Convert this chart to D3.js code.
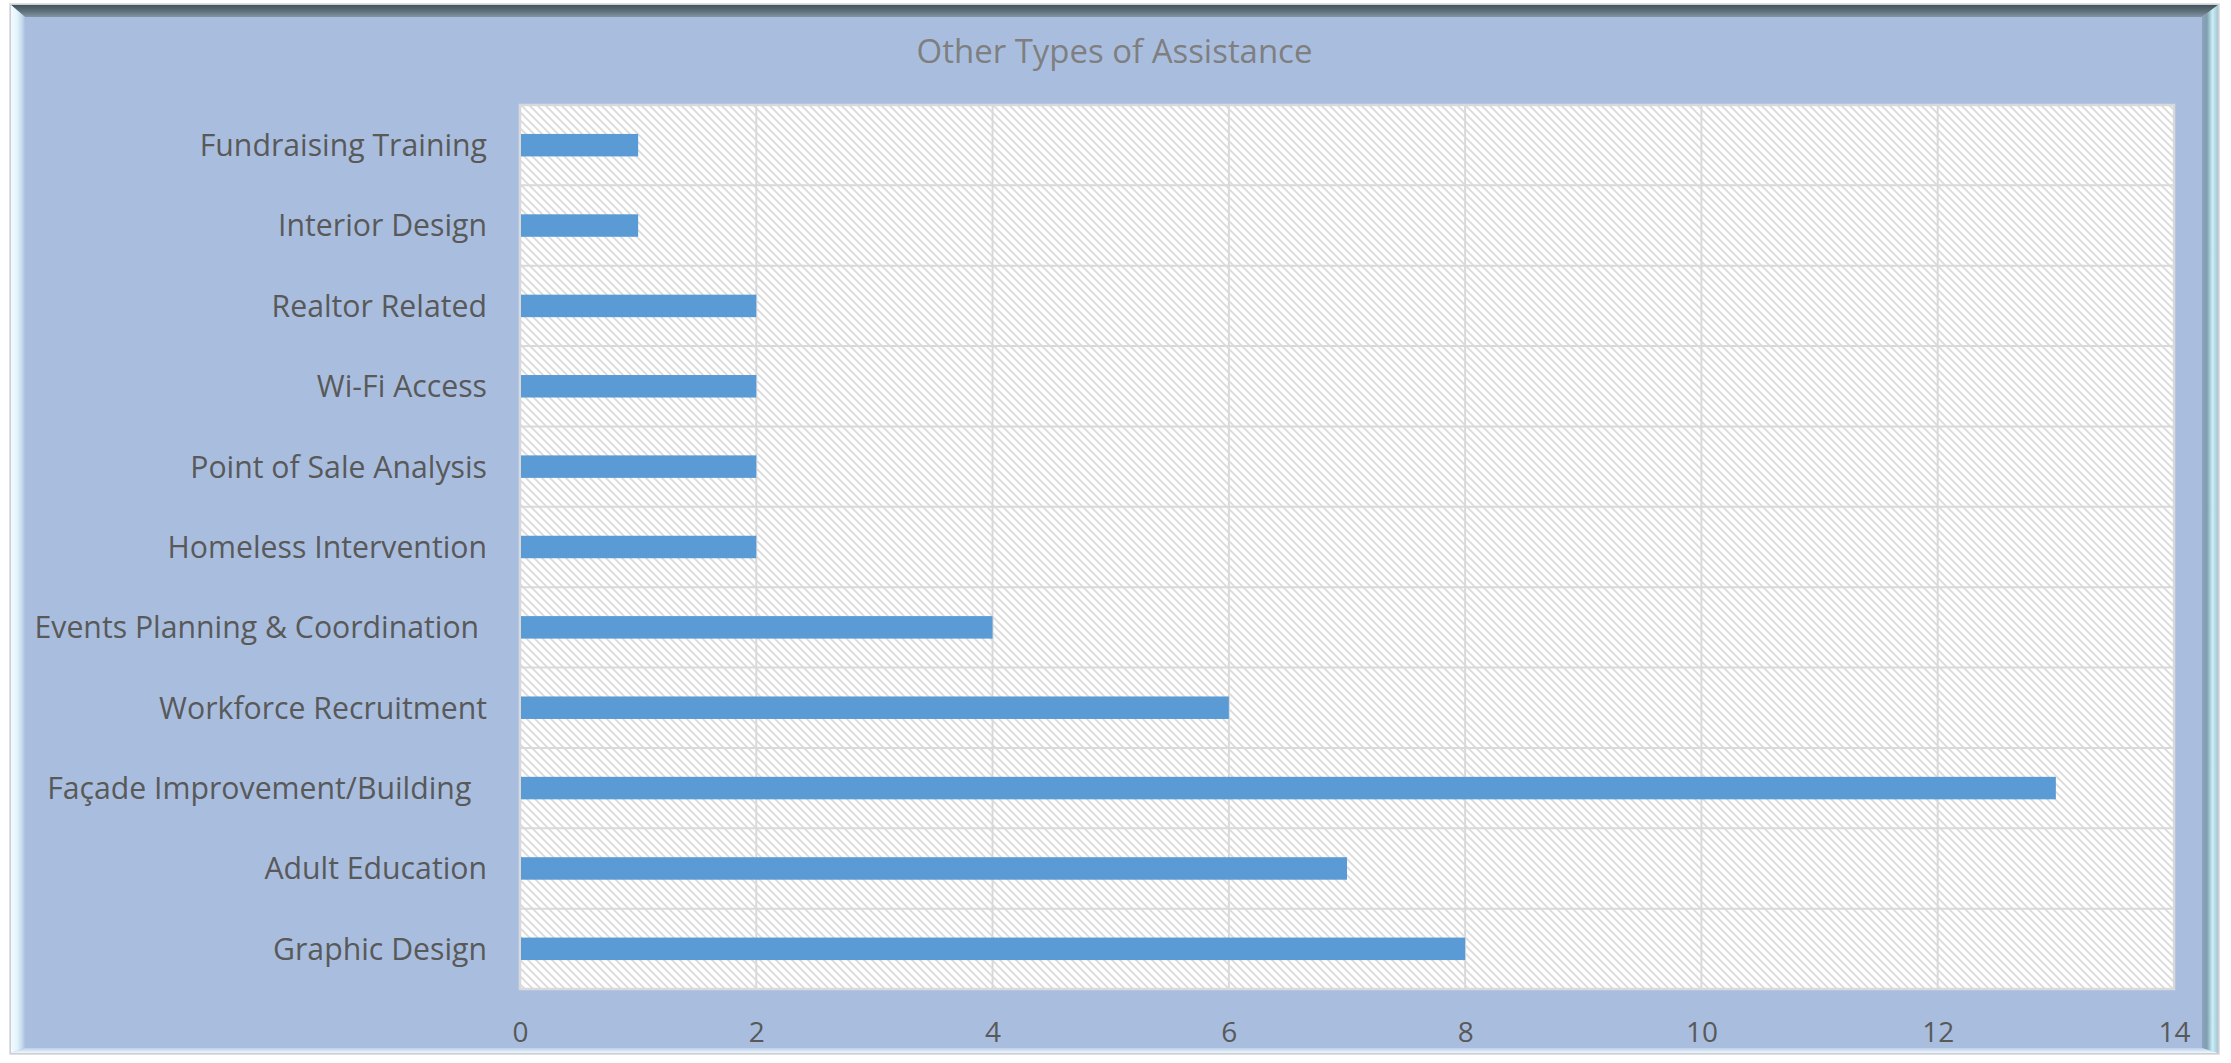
<!DOCTYPE html>
<html>
<head>
<meta charset="utf-8">
<script src="https://cdn.jsdelivr.net/npm/d3@7"></script>
<style>
  html, body { margin: 0; padding: 0; background: #ffffff; }
  svg { display: block; }
  text { font-family: "Open Sans", "Noto Sans", sans-serif; white-space: pre; }
</style>
</head>
<body>
<svg id="chart" width="2231" height="1063"></svg>
<script>
// Assistance categories, listed top to bottom
const categories = [
  "Fundraising Training",
  "Interior Design",
  "Realtor Related",
  "Wi-Fi Access",
  "Point of Sale Analysis",
  "Homeless Intervention",
  "Events Planning & Coordination ",
  "Workforce Recruitment",
  "Façade Improvement/Building  ",
  "Adult Education",
  "Graphic Design"
];
// Number of requests for each category
const counts = [1, 1, 2, 2, 2, 2, 4, 6, 13, 7, 8];
// Value-axis ticks
const xTicks = [0, 2, 4, 6, 8, 10, 12, 14];
const chartTitle = "Other Types of Assistance";

const svg = d3.select("#chart");
const defs = svg.append("defs");

// ---- frame gradients ----
function linGrad(id, x2, y2, stops) {
  const g = defs.append("linearGradient").attr("id", id)
    .attr("x1", 0).attr("y1", 0).attr("x2", x2).attr("y2", y2);
  stops.forEach(s => g.append("stop").attr("offset", s[0]).attr("stop-color", s[1]));
}
linGrad("bevTop", 0, 1, [[0, "#43535a"], [0.5, "#5d6f78"], [1, "#8496a6"]]);
linGrad("bevLeft", 1, 0, [[0, "#f4fbff"], [0.45, "#e2f4fb"], [0.8, "#c3d8ec"], [1, "#abc0e0"]]);
linGrad("bevRight", 1, 0, [[0, "#8ea4bc"], [0.3, "#7f9db0"], [0.65, "#c9eef6"], [1, "#a6c6d2"]]);
linGrad("bevBottom", 0, 1, [[0, "#bccfe9"], [1, "#f1f8fd"]]);

// diagonal hatch for the plot area
const pat = defs.append("pattern").attr("id", "hatch")
  .attr("patternUnits", "userSpaceOnUse").attr("width", 8).attr("height", 8);
pat.append("rect").attr("width", 8).attr("height", 8).attr("fill", "#ffffff");
pat.append("path").attr("d", "M0,0 L8,8 M-2,6 L2,10 M6,-2 L10,2")
  .attr("stroke", "#dadada").attr("stroke-width", 1.8);

// ---- outer frame ----
const fx0 = 11, fy0 = 5, fx1 = 2218, fy1 = 1053;
const bl = 25, bt = 17, br = 2202, bb = 1048;
svg.append("rect").attr("x", fx0 - 1).attr("y", fy0 - 1)
  .attr("width", fx1 - fx0 + 2).attr("height", fy1 - fy0 + 2)
  .attr("fill", "#a9bedf").attr("stroke", "#d6d6d6").attr("stroke-width", 1.5);

const poly = (pts, fill) => svg.append("polygon")
  .attr("points", pts.map(p => p.join(",")).join(" ")).attr("fill", fill);
poly([[fx0, fy0], [fx1, fy0], [br, bt], [bl, bt]], "url(#bevTop)");
poly([[fx0, fy0], [bl, bt], [bl, bb], [fx0, fy1]], "url(#bevLeft)");
poly([[fx1, fy0], [fx1, fy1], [br, bb], [br, bt]], "url(#bevRight)");
poly([[bl, bb], [br, bb], [fx1, fy1], [fx0, fy1]], "url(#bevBottom)");

// ---- plot area ----
const plot = { left: 520, top: 105, right: 2174, bottom: 989 };

const x = d3.scaleLinear().domain([0, 14]).range([plot.left, plot.right]);
const y = d3.scaleBand().domain(categories)
  .range([plot.top, plot.bottom]).paddingInner(0.72).paddingOuter(0.36);

svg.append("rect")
  .attr("x", plot.left).attr("y", plot.top)
  .attr("width", plot.right - plot.left).attr("height", plot.bottom - plot.top)
  .attr("fill", "url(#hatch)");

// vertical gridlines
svg.append("g").selectAll("line").data(xTicks).join("line")
  .attr("x1", d => x(d)).attr("x2", d => x(d))
  .attr("y1", plot.top).attr("y2", plot.bottom)
  .attr("stroke", "#d9d9d9").attr("stroke-width", 2);

// horizontal separators between categories
const step = y.step();
const seps = d3.range(1, categories.length).map(i => plot.top + i * step);
svg.append("g").selectAll("line").data(seps).join("line")
  .attr("x1", plot.left).attr("x2", plot.right)
  .attr("y1", d => d).attr("y2", d => d)
  .attr("stroke", "#d9d9d9").attr("stroke-width", 2);

svg.append("rect")
  .attr("x", plot.left).attr("y", plot.top)
  .attr("width", plot.right - plot.left).attr("height", plot.bottom - plot.top)
  .attr("fill", "none").attr("stroke", "#d9d9d9").attr("stroke-width", 2.5);

// bars
svg.append("g").selectAll("rect").data(categories).join("rect")
  .attr("x", x(0) + 1)
  .attr("y", d => y(d))
  .attr("width", (d, i) => x(counts[i]) - x(0) - 1)
  .attr("height", y.bandwidth())
  .attr("fill", "#5b9bd5");

// ---- text: size each group so its width fits the layout ----
function fitSize(str, targetWidth) {
  const t = svg.append("text").attr("font-size", 100).text(str);
  const w = t.node().getComputedTextLength();
  t.remove();
  return 100 * targetWidth / w;
}

const catSize = fitSize("Workforce Recruitment", 328);
svg.append("g").selectAll("text").data(categories).join("text")
  .attr("x", 487)
  .attr("y", d => y(d) + y.bandwidth() / 2)
  .attr("dy", "0.36em")
  .attr("text-anchor", "end")
  .attr("font-size", catSize)
  .attr("fill", "#595959")
  .text(d => d);

const tickSize = 28;
const xAxis = d3.axisBottom(x).tickValues(xTicks).tickSize(0).tickPadding(0);
const axG = svg.append("g").attr("transform", `translate(0,${plot.bottom})`).call(xAxis);
axG.select(".domain").remove();
axG.selectAll("text")
  .attr("y", 0).attr("dy", 0)
  .attr("transform", "translate(0,53)")
  .attr("font-size", tickSize)
  .attr("font-family", "\"Open Sans\", \"Noto Sans\", sans-serif")
  .attr("fill", "#595959");

const titleSize = fitSize(chartTitle, 396);
svg.append("text")
  .attr("x", 1114.5).attr("y", 63)
  .attr("text-anchor", "middle")
  .attr("font-size", titleSize)
  .attr("fill", "#7f7f7f")
  .text(chartTitle);
</script>
</body>
</html>
